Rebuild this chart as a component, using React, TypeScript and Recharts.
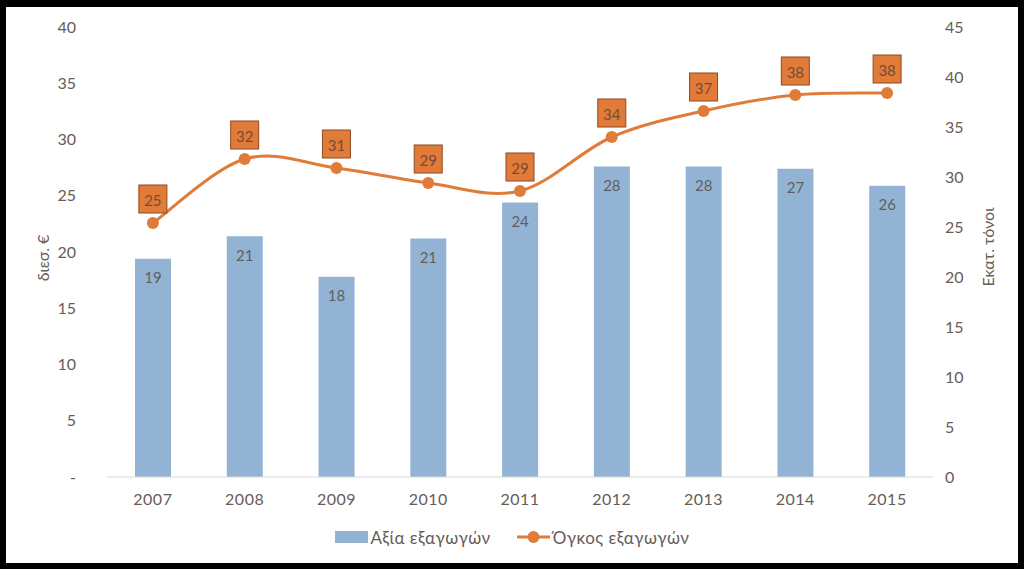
import React from "react";
import {
  Bar,
  ComposedChart,
  LabelList,
  Legend,
  Line,
  XAxis,
  YAxis,
} from "recharts";

const years = ["2007", "2008", "2009", "2010", "2011", "2012", "2013", "2014", "2015"];
// value of exports, bn €
const exportValue = [19.4, 21.4, 17.8, 21.2, 24.4, 27.6, 27.6, 27.4, 25.9];
// volume of exports, million tonnes
const exportVolume = [25.4, 31.8, 30.9, 29.4, 28.6, 34.0, 36.6, 38.2, 38.4];

const leftTicks = [0, 5, 10, 15, 20, 25, 30, 35, 40];
const rightTicks = [0, 5, 10, 15, 20, 25, 30, 35, 40, 45];

const BLUE = "#93b3d4";
const ORANGE = "#e07b39";
const TEXT = "#665c58";
const FONT = "Lato, 'Open Sans', sans-serif";

const data = years.map((year, i) => ({
  year,
  value: exportValue[i],
  volume: exportVolume[i],
}));

// Excel-like smoothing: catmull-rom through the points
function smoothCurve(context: any) {
  let pts: [number, number][] = [];
  return {
    areaStart() {},
    areaEnd() {},
    lineStart() {
      pts = [];
    },
    point(x: number, y: number) {
      pts.push([+x, +y]);
    },
    lineEnd() {
      if (!pts.length) return;
      context.moveTo(pts[0][0], pts[0][1]);
      for (let i = 0; i < pts.length - 1; i++) {
        const p0 = pts[Math.max(0, i - 1)];
        const p1 = pts[i];
        const p2 = pts[i + 1];
        const p3 = pts[Math.min(pts.length - 1, i + 2)];
        const c1x = p1[0] + (p2[0] - p0[0]) / 6;
        const c1y = p1[1] + (p2[1] - p0[1]) / 6;
        const c2x = p2[0] - (p3[0] - p1[0]) / 6;
        const c2y = p2[1] - (p3[1] - p1[1]) / 6;
        context.bezierCurveTo(c1x, c1y, c2x, c2y, p2[0], p2[1]);
      }
    },
  };
}

function VolumeLabel(props: any) {
  const { x, y, value } = props;
  return (
    <g>
      <rect x={x - 14} y={y - 38} width={28} height={28} fill={ORANGE} stroke="#8e4a22" strokeWidth={1} />
      <text x={x} y={y - 23} textAnchor="middle" dominantBaseline="central" fontSize={15} fill="#7a4a32" fontFamily={FONT}>
        {Math.round(value)}
      </text>
    </g>
  );
}

function LegendContent() {
  return (
    <div
      style={{
        height: 46,
        display: "flex",
        justifyContent: "center",
        alignItems: "center",
        paddingBottom: 6,
        boxSizing: "border-box",
        fontFamily: FONT,
        fontSize: 17,
        color: TEXT,
      }}
    >
      <svg width={33} height={12} style={{ marginRight: 3 }}>
        <rect x={0} y={0} width={33} height={12} fill={BLUE} />
      </svg>
      <span style={{ marginRight: 26, letterSpacing: 0.5 }}>Αξία εξαγωγών</span>
      <svg width={33} height={14} style={{ marginRight: 3 }}>
        <line x1={0} y1={7} x2={33} y2={7} stroke={ORANGE} strokeWidth={3} />
        <circle cx={16.5} cy={7} r={6} fill={ORANGE} />
      </svg>
      <span style={{ letterSpacing: 0.5 }}>Όγκος εξαγωγών</span>
    </div>
  );
}

export default function App() {
  return (
    <div style={{ position: "absolute", left: 0, top: 0, width: 1024, height: 569, background: "#000" }}>
      <div style={{ position: "absolute", left: 6, top: 7, width: 1012, height: 556, background: "#fff" }}>
        <ComposedChart
          width={1012}
          height={556}
          data={data}
          margin={{ top: 20, right: 0, bottom: 0, left: 0 }}
          barCategoryGap="10%"
        >
          <XAxis
            dataKey="year"
            axisLine={{ stroke: "#d9d9d9" }}
            tickLine={false}
            tickMargin={11}
            height={40}
            tick={{ fill: TEXT, fontSize: 16, fontFamily: FONT, letterSpacing: 0.5 }}
          />
          <YAxis
            yAxisId="left"
            domain={[0, 40]}
            ticks={leftTicks}
            width={101}
            axisLine={false}
            tickLine={false}
            tickMargin={25}
            tickFormatter={(v: number) => (v === 0 ? "-" : String(v))}
            tick={{ fill: TEXT, fontSize: 16, fontFamily: FONT }}
          />
          <YAxis
            yAxisId="right"
            orientation="right"
            domain={[0, 45]}
            ticks={rightTicks}
            width={85}
            axisLine={false}
            tickLine={false}
            tickMargin={6}
            tick={{ fill: TEXT, fontSize: 16, fontFamily: FONT }}
          />
          <Legend verticalAlign="bottom" height={46} content={<LegendContent />} />
          <Bar yAxisId="left" dataKey="value" name="Αξία εξαγωγών" fill={BLUE} barSize={36} isAnimationActive={false}>
            <LabelList
              dataKey="value"
              position="insideTop"
              offset={14}
              formatter={(v: any) => Math.round(Number(v))}
              style={{ fill: "#5f5f5f", fontSize: 15, fontFamily: FONT }}
            />
          </Bar>
          <Line
            yAxisId="right"
            type={smoothCurve as any}
            dataKey="volume"
            name="Όγκος εξαγωγών"
            stroke={ORANGE}
            strokeWidth={3}
            dot={{ r: 6, fill: ORANGE, stroke: ORANGE, strokeWidth: 0 }}
            activeDot={false}
            isAnimationActive={false}
          >
            <LabelList dataKey="volume" content={<VolumeLabel />} />
          </Line>
        </ComposedChart>
        <div
          style={{
            position: "absolute",
            left: 36,
            top: 251,
            transform: "translate(-50%, -50%) rotate(-90deg)",
            whiteSpace: "nowrap",
            fontFamily: FONT,
            fontSize: 16,
            color: TEXT,
          }}
        >
          διεσ. €
        </div>
        <div
          style={{
            position: "absolute",
            left: 981,
            top: 240,
            transform: "translate(-50%, -50%) rotate(-90deg)",
            whiteSpace: "nowrap",
            fontFamily: FONT,
            fontSize: 16,
            color: TEXT,
          }}
        >
          Εκατ. τόνοι
        </div>
      </div>
    </div>
  );
}
